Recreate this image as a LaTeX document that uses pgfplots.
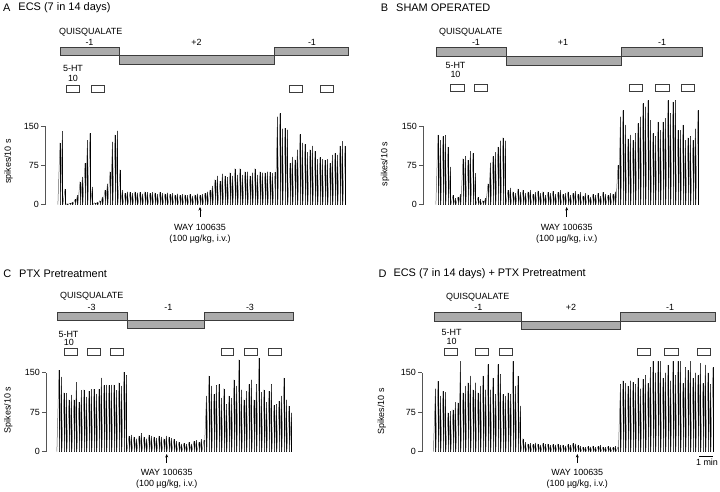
\documentclass[border=0pt]{standalone}
\usepackage{fontspec}
\setmainfont{Liberation Sans}
\usepackage{pgfplots}
\pgfplotsset{compat=1.18}
\usepackage{pgfplotstable}
\usetikzlibrary{arrows.meta}

\definecolor{barfill}{HTML}{ABABAB}
\definecolor{bardraw}{HTML}{3C3C3C}
\definecolor{axgray}{HTML}{555555}

\pgfplotstableread[row sep=\\]{rate\\118\\140\\30\\2\\3\\5\\10\\18\\44\\53\\79\\123\\136\\34\\4\\5\\8\\15\\28\\40\\63\\120\\133\\141\\67\\28\\22\\25\\24\\22\\25\\23\\24\\21\\25\\24\\22\\24\\23\\20\\24\\22\\21\\23\\20\\22\\19\\21\\18\\20\\19\\18\\20\\17\\19\\21\\18\\20\\22\\25\\28\\36\\48\\55\\45\\59\\55\\52\\61\\55\\69\\57\\69\\57\\63\\63\\55\\61\\69\\57\\63\\61\\61\\63\\62\\60\\62\\168\\174\\145\\146\\143\\79\\91\\86\\105\\134\\118\\115\\100\\105\\112\\102\\87\\90\\87\\85\\87\\79\\95\\98\\95\\112\\121\\112\\}\dataA

\pgfplotstableread[row sep=\\]{rate\\133\\123\\130\\132\\110\\72\\18\\12\\15\\20\\88\\92\\85\\102\\98\\60\\14\\10\\8\\12\\40\\80\\92\\100\\110\\122\\128\\122\\28\\32\\25\\22\\30\\24\\28\\22\\25\\28\\20\\24\\27\\22\\25\\18\\24\\22\\26\\20\\24\\28\\20\\22\\25\\18\\22\\26\\20\\24\\17\\22\\19\\15\\20\\18\\22\\16\\24\\20\\18\\22\\20\\25\\75\\168\\180\\152\\126\\133\\123\\136\\155\\168\\193\\187\\199\\161\\136\\130\\158\\142\\158\\165\\199\\174\\196\\199\\142\\142\\152\\123\\128\\130\\123\\145\\180\\}\dataB

\pgfplotstableread[row sep=\\]{rate\\155\\142\\112\\111\\99\\108\\99\\132\\94\\117\\118\\104\\115\\119\\119\\110\\119\\140\\126\\127\\126\\127\\127\\117\\131\\125\\151\\145\\30\\32\\28\\25\\30\\35\\28\\25\\32\\30\\28\\26\\30\\28\\25\\30\\28\\26\\24\\20\\18\\15\\16\\14\\18\\15\\20\\22\\18\\24\\22\\106\\144\\125\\109\\126\\128\\102\\120\\90\\106\\102\\137\\125\\175\\118\\99\\115\\128\\137\\99\\128\\178\\113\\118\\94\\115\\128\\88\\90\\96\\106\\140\\99\\87\\74\\}\dataC

\pgfplotstableread[row sep=\\]{rate\\120\\134\\106\\115\\113\\74\\77\\80\\94\\93\\172\\112\\125\\131\\144\\118\\131\\112\\125\\144\\118\\166\\118\\140\\109\\166\\147\\109\\106\\112\\109\\172\\125\\144\\87\\25\\18\\15\\16\\14\\17\\15\\13\\16\\14\\15\\12\\14\\13\\15\\12\\13\\11\\14\\12\\16\\15\\12\\10\\9\\8\\10\\9\\11\\8\\10\\12\\9\\8\\10\\9\\8\\10\\9\\128\\135\\130\\125\\135\\132\\128\\140\\120\\138\\145\\130\\160\\172\\150\\172\\172\\140\\150\\165\\135\\172\\145\\172\\172\\130\\160\\155\\172\\140\\150\\145\\168\\130\\165\\150\\128\\160\\}\dataD

\pgfplotstablecreatecol[expr={\pgfplotstablerow}]{idx}{\dataA}
\pgfplotstablecreatecol[expr={\pgfplotstablerow}]{idx}{\dataB}
\pgfplotstablecreatecol[expr={\pgfplotstablerow}]{idx}{\dataC}
\pgfplotstablecreatecol[expr={\pgfplotstablerow}]{idx}{\dataD}

\pgfplotsset{trace/.style={
  scale only axis, clip=false,
  axis x line=none, axis y line*=left,
  ymin=0, ymax=150, ytick={0,75,150},
  tick align=outside, major tick length=4bp,
  y axis line style={draw=axgray, line width=0.5pt},
  every tick/.style={axgray, line width=0.5pt},
  yticklabel style={font=\fontsize{9}{10}\selectfont, inner sep=2bp},
  /pgf/number format/assume math mode=true,
  ylabel style={font=\fontsize{9}{10}\selectfont, anchor=center},
}}

\newcommand{\trace}[1]{%
  \addplot[ycomb, black, line width=0.5pt] table[x=idx, y=rate]{#1};
  \addplot[quiver={u=0.85, v=\thisrow{rate}}, black!60, line width=0.5pt] table[x expr=\thisrow{idx}-0.85, y expr=0]{#1};
}

\begin{document}
\begin{tikzpicture}
\useasboundingbox (0,0) rectangle (720bp,-492bp);

% Panel A
\begin{axis}[trace, at={(45bp,-204.7bp)}, anchor=south west,
  width=303bp, height=78.7bp, xmin=-6, xmax=115.2,
  ylabel={spikes/10 s}, ylabel style={at={(axis description cs:-0.1205,0.549)}}]
\trace{\dataA}
\end{axis}

% Panel B
\begin{axis}[trace, at={(423bp,-204.7bp)}, anchor=south west,
  width=277.7bp, height=78.7bp, xmin=-6, xmax=105.08,
  ylabel={spikes/10 s}, ylabel style={at={(axis description cs:-0.137,0.517)}}]
\trace{\dataB}
\end{axis}

% Panel C
\begin{axis}[trace, at={(46bp,-451.7bp)}, anchor=south west,
  width=246.7bp, height=79bp, xmin=-5.2, xmax=93.48,
  ylabel={Spikes/10 s}, ylabel style={at={(axis description cs:-0.153,0.528)}}]
\trace{\dataC}
\end{axis}

% Panel D
\begin{axis}[trace, at={(422bp,-451.7bp)}, anchor=south west,
  width=293bp, height=79bp, xmin=-5.4, xmax=111.8,
  ylabel={Spikes/10 s}, ylabel style={at={(axis description cs:-0.1375,0.509)}}]
\trace{\dataD}
\end{axis}

\begin{scope}[x=1bp, y=-1bp, every node/.style={inner sep=0pt, font=\fontsize{9}{10}\selectfont},
  qbar/.style={fill=barfill, draw=bardraw, line width=0.6pt},
  htbox/.style={fill=white, draw=bardraw, line width=0.6pt},
  way/.style={-{Stealth[length=3.5bp,width=3bp]}, line width=0.6pt}]
% ---- A
\node[anchor=west, font=\fontsize{11}{12}\selectfont] at (3,7.5) {A};
\node[anchor=west, font=\fontsize{11}{12}\selectfont] at (18.3,7.5) {ECS (7 in 14 days)};
\node[anchor=west] at (59,32.3) {QUISQUALATE};
\node at (89.5,42) {-1};
\node at (196.5,42) {+2};
\node at (312,42) {-1};
\draw[qbar] (60,47.3) rectangle (119,55.7);
\draw[qbar] (119,55.7) rectangle (274,64);
\draw[qbar] (274,47.3) rectangle (348.7,55.7);
\node at (73,68.3) {5-HT};
\node at (73,78.3) {10};
\foreach \a/\b in {66.3/79.7, 91.3/104.3, 289.7/302.7, 320/333}
  \draw[htbox] (\a,85) rectangle (\b,92.3);
\draw[way] (200,217) -- (200,207);
\node at (200,227) {WAY 100635};
\node at (200,239) {(100 µg/kg, i.v.)};
% ---- B
\node[anchor=west, font=\fontsize{11}{12}\selectfont] at (380.7,7.5) {B};
\node[anchor=west, font=\fontsize{11}{12}\selectfont] at (396,7.5) {SHAM OPERATED};
\node[anchor=west] at (439,32.3) {QUISQUALATE};
\node at (476,42) {-1};
\node at (563,42) {+1};
\node at (662,42) {-1};
\draw[qbar] (436.3,47.7) rectangle (506.7,56.7);
\draw[qbar] (506.7,56.7) rectangle (621.7,65);
\draw[qbar] (621.7,47.7) rectangle (702.7,56.7);
\node at (455.5,65.5) {5-HT};
\node at (455.5,74.5) {10};
\foreach \a/\b in {450.7/464.3, 474.3/487.7, 629.3/642.7, 655.7/669, 681.3/694.7}
  \draw[htbox] (\a,84) rectangle (\b,91.3);
\draw[way] (566.7,217) -- (566.7,207);
\node at (566.7,227) {WAY 100635};
\node at (566.7,239) {(100 µg/kg, i.v.)};
% ---- C
\node[anchor=west, font=\fontsize{11}{12}\selectfont] at (3.3,274) {C};
\node[anchor=west, font=\fontsize{11}{12}\selectfont] at (19,274) {PTX Pretreatment};
\node[anchor=west] at (60,296) {QUISQUALATE};
\node at (91.7,307.7) {-3};
\node at (168.3,307.7) {-1};
\node at (250,307.7) {-3};
\draw[qbar] (57.7,312.3) rectangle (127.7,320.3);
\draw[qbar] (127.7,320.3) rectangle (204.3,328.3);
\draw[qbar] (204.3,312.3) rectangle (293.3,320.3);
\node at (68.5,334) {5-HT};
\node at (68.8,342.5) {10};
\foreach \a/\b in {64.3/77.3, 87.3/100.3, 110.3/123.3, 221/233.7, 244.3/257, 268.3/281}
  \draw[htbox] (\a,348) rectangle (\b,355.3);
\draw[way] (166.7,463) -- (166.7,454);
\node at (166.7,472.7) {WAY 100635};
\node at (166.7,483.7) {(100 µg/kg, i.v.)};
% ---- D
\node[anchor=west, font=\fontsize{11}{12}\selectfont] at (378.3,274) {D};
\node[anchor=west, font=\fontsize{11}{12}\selectfont] at (393.3,274) {ECS (7 in 14 days) + PTX Pretreatment};
\node[anchor=west] at (446,297.7) {QUISQUALATE};
\node at (478.3,307.7) {-1};
\node at (571,307.7) {+2};
\node at (670,307.7) {-1};
\draw[qbar] (434,312.7) rectangle (521.7,321.3);
\draw[qbar] (521.7,321.3) rectangle (620.3,329.3);
\draw[qbar] (620.3,312.7) rectangle (715,321.3);
\node at (451.7,332.5) {5-HT};
\node at (451.7,341.5) {10};
\foreach \a/\b in {444/457.3, 475.3/488.7, 499/512.3, 637.3/650.7, 664.7/678, 697.3/710.7}
  \draw[htbox] (\a,348.3) rectangle (\b,355.3);
\draw[way] (577.3,463) -- (577.3,454);
\node at (577.3,472.7) {WAY 100635};
\node at (577.3,483.7) {(100 µg/kg, i.v.)};
\draw[line width=0.6pt] (699,456) -- (713.3,456);
\node at (707,462.7) {1 min};
\end{scope}
\end{tikzpicture}
\end{document}
